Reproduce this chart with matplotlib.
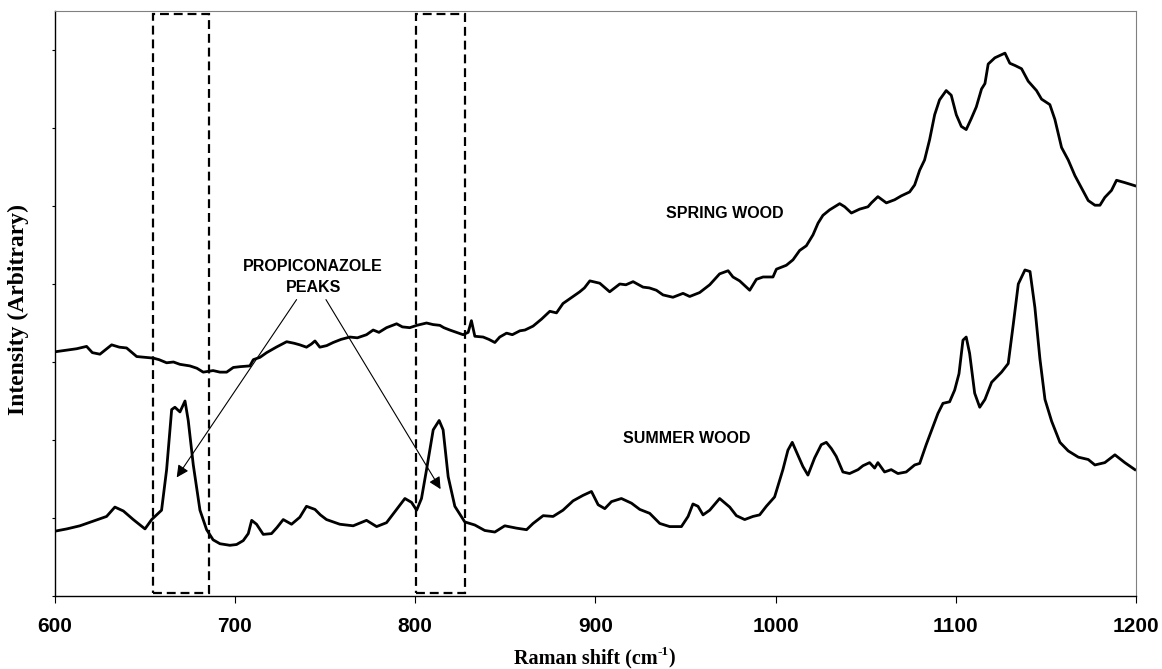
import numpy as np
import matplotlib
matplotlib.use("Agg")
import matplotlib.pyplot as plt
from matplotlib.patches import Rectangle

# Raman spectra (arbitrary intensity units)
spring_x = [600, 606, 612.3, 617.8, 621, 625.2, 631.7, 636, 640, 645.6, 650, 654.8, 658,
            662.2, 666, 669.6, 675.1, 679, 682.5, 688, 691.8, 695.5, 699.2, 702.9, 708.4,
            710.3, 714, 717.7, 723, 728.8, 733, 736.1, 739.8, 742.5, 744.5, 747.2, 751,
            754.6, 759, 763.9, 768, 773.1, 776.8, 780, 784.2, 789.8, 793, 797.1, 801, 806.4,
            810, 813.8, 816, 819.3, 823, 826.7, 829.5, 831.3, 833.2, 837.8, 841, 844.3, 847,
            850.8, 854, 858.2, 861, 865.5, 870.2, 874.8, 878.5, 882.1, 887.7, 891.4, 894,
            897, 902.5, 905, 908, 913.6, 917, 921, 926.5, 930, 933.9, 937.6, 943.1, 948.7,
            952.4, 957.9, 963.5, 969, 973.7, 976.4, 980.1, 985.7, 989.4, 993.1, 998.6,
            1000.5, 1006, 1009.7, 1013.4, 1017.1, 1020.8, 1023.6, 1026.3, 1030, 1035.6,
            1038.4, 1042.1, 1046.7, 1051.3, 1053.2, 1056.8, 1061.5, 1066.1, 1069.8, 1074.4,
            1077.2, 1080, 1082.7, 1085.5, 1088.3, 1091, 1094.7, 1097.5, 1100.3, 1103.1,
            1105.8, 1108.6, 1111.4, 1114.3, 1116.2, 1118, 1121.7, 1127.3, 1130, 1133,
            1136.5, 1140.2, 1144.8, 1147.6, 1152.2, 1155, 1158.7, 1162.4, 1166.1, 1169.8,
            1173.5, 1177.2, 1180, 1182.7, 1186.4, 1189.2, 1193.8, 1199.4]
spring_y = [3.13, 3.15, 3.17, 3.20, 3.12, 3.10, 3.22, 3.19, 3.18, 3.07, 3.06, 3.05, 3.03,
            2.99, 3.00, 2.97, 2.95, 2.92, 2.87, 2.89, 2.87, 2.87, 2.93, 2.94, 2.95,
            3.03, 3.06, 3.12, 3.19, 3.26, 3.24, 3.22, 3.19, 3.23, 3.27, 3.19, 3.21,
            3.25, 3.29, 3.32, 3.31, 3.35, 3.41, 3.38, 3.44, 3.49, 3.45, 3.44, 3.47, 3.50,
            3.48, 3.47, 3.44, 3.41, 3.38, 3.35, 3.38, 3.53, 3.33, 3.32, 3.29, 3.25, 3.32,
            3.37, 3.35, 3.40, 3.41, 3.46, 3.55, 3.65, 3.63, 3.75, 3.84, 3.90, 3.95,
            4.04, 4.01, 3.96, 3.90, 4.00, 3.99, 4.03, 3.96, 3.95, 3.92, 3.86, 3.83, 3.88,
            3.84, 3.89, 3.99, 4.13, 4.17, 4.09, 4.04, 3.92, 4.06, 4.09, 4.09,
            4.19, 4.24, 4.31, 4.43, 4.49, 4.63, 4.78, 4.88, 4.95, 5.03,
            4.99, 4.91, 4.96, 4.99, 5.04, 5.12, 5.04, 5.08, 5.13, 5.18,
            5.27, 5.46, 5.59, 5.85, 6.17, 6.36, 6.48, 6.42, 6.17, 6.02,
            5.98, 6.12, 6.27, 6.50, 6.57, 6.82, 6.90, 6.96, 6.83, 6.80,
            6.76, 6.60, 6.48, 6.37, 6.30, 6.11, 5.75, 5.59, 5.39, 5.23,
            5.07, 5.01, 5.01, 5.11, 5.20, 5.33, 5.30, 5.26]

summer_x = [600, 606.8, 614.1, 621.5, 628.9, 633.5, 638.2, 643.7, 650.2, 653.9, 659.4,
            662.2, 665, 666.8, 669.6, 672.4, 674.2, 677, 680.7, 684.4, 688, 691.8, 697.3,
            701, 704.7, 707.5, 709.4, 712.1, 715.8, 720.4, 723.5, 726.9, 731.5, 736.1,
            739.8, 744.5, 747.5, 750.9, 758.3, 765.7, 773.1, 778.7, 784.2, 789.8, 794.4,
            798.1, 800.9, 803.6, 806.4, 810.1, 813.4, 815.6, 818.4, 822.1, 827.6, 833.2,
            838.7, 844.3, 849.8, 856.3, 861.9, 865.5, 871.1, 876.6, 882.1, 887.7, 893.2,
            897.9, 901.6, 905.3, 909, 914.5, 920.1, 924.7, 930.2, 935.8, 941.3, 947.8,
            951.5, 954.2, 957, 959.8, 963.5, 969, 974.6, 978.3, 982.9, 987.5, 991.2,
            994.9, 999.5, 1004.1, 1006.9, 1009.3, 1012.5, 1015.2, 1018, 1021.7, 1025.4,
            1028.2, 1031, 1033.7, 1037.4, 1041.1, 1045.8, 1048.5, 1052.2, 1055, 1056.8,
            1060.5, 1064.2, 1067.9, 1072.5, 1077.2, 1080, 1083.6, 1087.3, 1090.1, 1092.9,
            1096.6, 1099.4, 1101.8, 1104, 1105.8, 1107.7, 1110.5, 1113.3, 1116.2, 1119.9,
            1125.4, 1129.1, 1131.9, 1134.7, 1138.4, 1141.2, 1143.9, 1146.7, 1149.5,
            1153.2, 1157.8, 1162.4, 1168, 1173.5, 1177.2, 1182.7, 1188.3, 1193.8, 1199.4]
summer_y = [0.83, 0.86, 0.90, 0.96, 1.02, 1.14, 1.09, 0.98, 0.86, 0.98, 1.10,
            1.62, 2.39, 2.42, 2.36, 2.50, 2.25, 1.68, 1.10, 0.85, 0.72, 0.67, 0.65,
            0.66, 0.71, 0.80, 0.97, 0.92, 0.79, 0.80, 0.88, 0.98, 0.92, 1.01,
            1.15, 1.11, 1.04, 0.98, 0.92, 0.90, 0.97, 0.89, 0.94, 1.11, 1.25,
            1.20, 1.10, 1.25, 1.62, 2.13, 2.25, 2.13, 1.53, 1.15, 0.95, 0.91,
            0.84, 0.82, 0.90, 0.87, 0.85, 0.93, 1.03, 1.02, 1.10, 1.22, 1.29,
            1.34, 1.17, 1.12, 1.21, 1.25, 1.19, 1.11, 1.06, 0.93, 0.89, 0.89,
            1.02, 1.18, 1.15, 1.04, 1.10, 1.25, 1.14, 1.03, 0.98, 1.02, 1.04,
            1.15, 1.27, 1.62, 1.87, 1.97, 1.80, 1.66, 1.55, 1.77, 1.94,
            1.97, 1.89, 1.79, 1.59, 1.57, 1.62, 1.67, 1.71, 1.64, 1.71,
            1.59, 1.62, 1.57, 1.59, 1.68, 1.70, 1.94, 2.17, 2.34, 2.47,
            2.49, 2.64, 2.85, 3.28, 3.32, 3.11, 2.60, 2.42, 2.52, 2.74,
            2.87, 2.98, 3.48, 4.00, 4.18, 4.16, 3.70, 3.04, 2.52,
            2.24, 1.97, 1.86, 1.78, 1.75, 1.68, 1.71, 1.81, 1.71, 1.62]

# propiconazole regions (x ranges of the dashed boxes) and arrow targets
peak_regions = [(654.5, 685.8), (800.6, 827.7)]
arrow_tails = [(734.3, 3.80), (750.6, 3.80)]
arrow_heads = [(667.8, 1.52), (814.2, 1.37)]

xticks = [600, 700, 800, 900, 1000, 1100, 1200]

fig = plt.figure(figsize=(11.62, 6.69), dpi=100)
ax = fig.add_axes([54.5 / 1162, 73 / 669, 1081.5 / 1162, 585 / 669])

ax.plot(spring_x, spring_y, color="black", lw=2)
ax.plot(summer_x, summer_y, color="black", lw=2)

for x0, x1 in peak_regions:
    ax.add_patch(Rectangle((x0, 0.04), x1 - x0, 7.42, fill=False, ec="black",
                           lw=1.6, ls=(0, (4, 2.2))))

for tail, head in zip(arrow_tails, arrow_heads):
    ax.annotate("", xy=head, xytext=tail,
                arrowprops=dict(arrowstyle="-|>", color="black", lw=0.8,
                                mutation_scale=18, shrinkA=0, shrinkB=0))

lab = dict(family="Liberation Sans", weight="bold", fontsize=11.5, ha="center", va="center")
ax.text(743.5, 4.22, "PROPICONAZOLE", **lab)
ax.text(743.5, 3.95, "PEAKS", **lab)
ax.text(971.8, 4.90, "SPRING WOOD", **lab)
ax.text(950.6, 2.02, "SUMMER WOOD", **lab)

ax.set_xlim(600, 1200)
ax.set_ylim(0, 7.5)
ax.set_xticks(xticks)
ax.set_xticklabels([str(t) for t in xticks], family="Liberation Sans",
                   weight="bold", fontsize=15)
ax.set_yticks(np.arange(0, 8))
ax.set_yticklabels([])
ax.tick_params(axis="x", direction="out", length=5, width=0.8, pad=10)
ax.tick_params(axis="y", direction="out", length=2.5, width=0.8)

for s in ["left", "bottom"]:
    ax.spines[s].set_linewidth(1.0)
    ax.spines[s].set_color("black")
for s in ["top", "right"]:
    ax.spines[s].set_linewidth(0.8)
    ax.spines[s].set_color("#808080")

# x label in pieces so the superscript keeps a plain hyphen
serif = dict(family="Liberation Serif", weight="bold")
t1 = fig.text(514 / 1162, 6 / 669, "Raman shift (cm", fontsize=14.5,
              ha="left", va="baseline", **serif)
sup = ax.annotate("-1", xy=(1.0, 0.5), xycoords=t1, fontsize=9.5,
                  ha="left", va="bottom", **serif)
ax.annotate(")", xy=(1.0, 0.0), xycoords=(sup, t1), fontsize=14.5,
            ha="left", va="bottom", **serif)

ax.set_ylabel("Intensity (Arbitrary)", fontsize=17, **serif)
ax.yaxis.set_label_coords(-0.0236, 0.489)

fig.savefig("out.png", dpi=100)
